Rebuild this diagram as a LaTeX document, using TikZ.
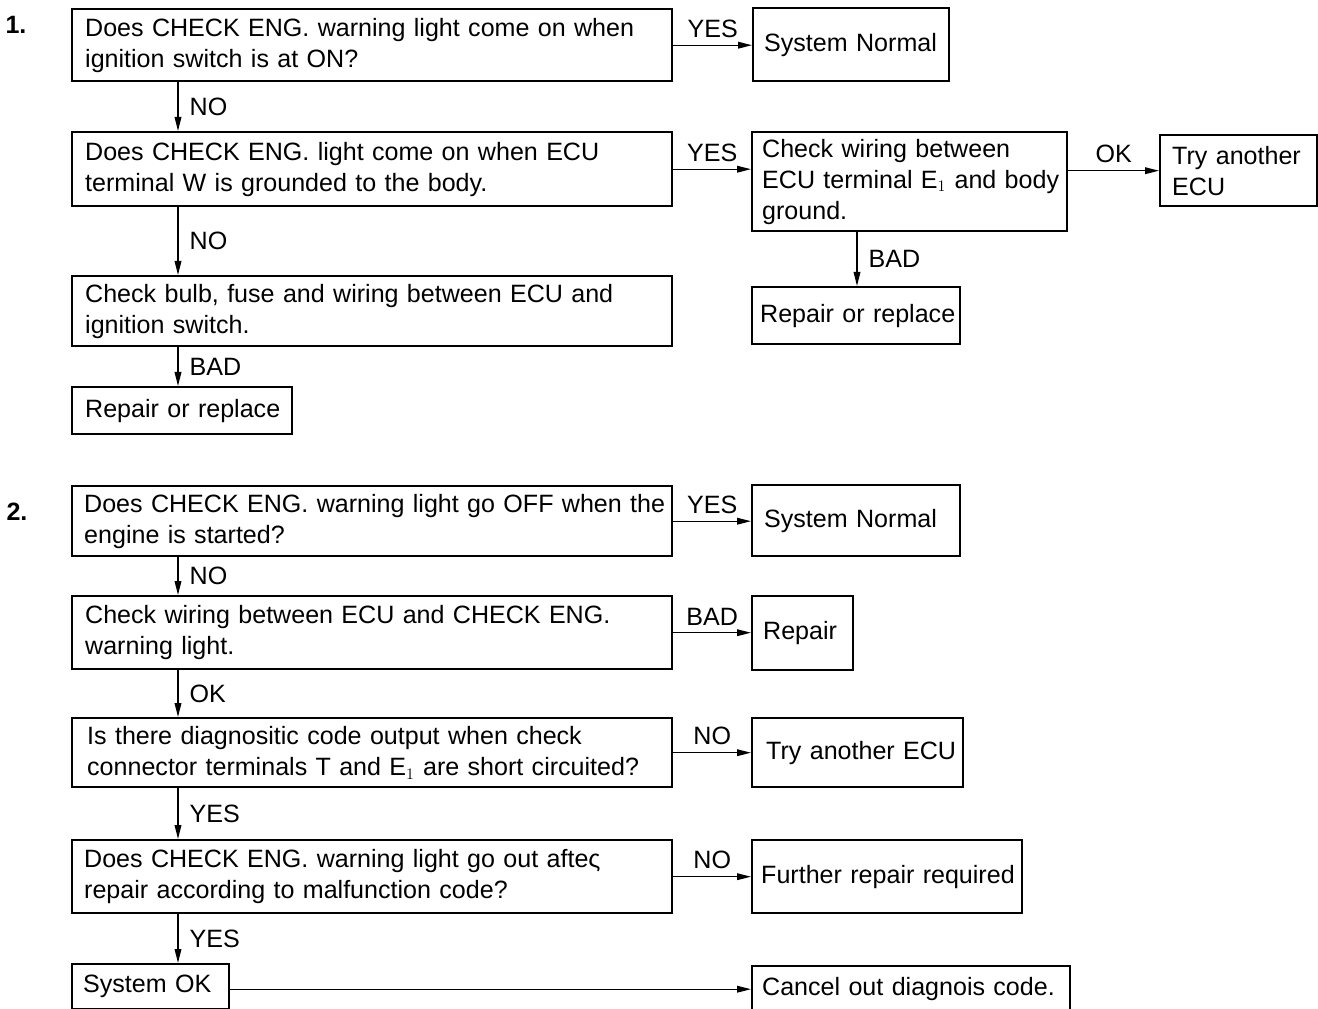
\documentclass[tikz,border=0pt]{standalone}
\usepackage{fontspec}
\setmainfont{Liberation Sans}
\usetikzlibrary{arrows.meta}
\newdimen\px \px=0.75pt
\newdimen\tw
\newcommand{\dgfont}{\fontsize{18.8}{23.25}\selectfont}
\tikzset{
  box/.style={draw, line width=1.8pt, rectangle, font=\dgfont, align=left, inner ysep=0pt, anchor=north west},
  arr/.style={line width=1pt, -{Triangle[length=10.5pt,width=5pt]}},
  lab/.style={font=\dgfont, inner sep=0pt},
}
% name, x, y, w, h, inset, text
\newcommand{\bx}[7]{%
  \tw=#4\px \advance\tw by -#6\px \advance\tw by -#6\px
  \node[box, minimum width=#4\px, minimum height=#5\px, inner xsep=#6\px, text width=\the\tw] (#1) at (#2,#3) {#7};}
\begin{document}
\begin{tikzpicture}[x=0.75pt, y=-0.75pt]
\path[use as bounding box] (0,0) rectangle (1318,1009);
\clip (0,0) rectangle (1318,1009);

\node[lab, font=\dgfont\bfseries] (n1) at (16,25) {1.};
\node[lab, font=\dgfont\bfseries] (n2) at (17,512) {2.};

% section 1
\bx{A1}{71}{8}{600}{72}{13}{\mbox{Does CHECK ENG. warning light come on when}\\\mbox{ignition switch is at ON?}}
\bx{SN1}{752}{7}{196}{73}{11}{\mbox{System Normal}}
\bx{A2}{71}{131}{600}{74}{13}{\mbox{Does CHECK ENG. light come on when ECU}\\\mbox{terminal W is grounded to the body.}}
\bx{A3}{751}{131}{315}{99}{10}{\mbox{Check wiring between}\\\mbox{ECU terminal E$_1$ and body}\\\mbox{ground.}}
\bx{TA1}{1159}{134}{157}{71}{12}{\mbox{Try another}\\\mbox{ECU}}
\bx{RR1}{751}{286}{208}{57}{8}{\mbox{Repair or replace}}
\bx{A4}{71}{275}{600}{70}{13}{\mbox{Check bulb, fuse and wiring between ECU and}\\\mbox{ignition switch.}}
\bx{RR2}{71}{386}{220}{47}{13}{\mbox{Repair or replace}}

\draw[arr] (A1.east) -- node[lab, above=7\px]{YES} (A1.east -| SN1.west);
\draw[arr] ([xshift=107\px]A1.south west) -- node[lab, right=11\px]{NO} ([xshift=107\px]A2.north west);
\draw[arr] (A2.east) -- node[lab, above=7\px]{YES} (A2.east -| A3.west);
\draw[arr] (A3.east |- TA1.west) -- node[lab, above=7\px]{OK} (TA1.west);
\draw[arr] ([xshift=106\px]A3.south west) -- node[lab, right=11\px]{BAD} ([xshift=106\px]RR1.north west);
\draw[arr] ([xshift=107\px]A2.south west) -- node[lab, right=11\px]{NO} ([xshift=107\px]A4.north west);
\draw[arr] ([xshift=107\px]A4.south west) -- node[lab, right=11\px]{BAD} ([xshift=107\px]RR2.north west);

% section 2
\bx{B1}{71}{485}{600}{70}{12}{\mbox{Does CHECK ENG. warning light go OFF when the}\\\mbox{engine is started?}}
\bx{SN2}{751}{484}{208}{71}{12}{\mbox{System Normal}}
\bx{B2}{71}{595}{600}{73}{13}{\mbox{Check wiring between ECU and CHECK ENG.}\\\mbox{warning light.}}
\bx{RP}{751}{595}{101}{74}{11}{\mbox{Repair}}
\bx{B3}{71}{717}{600}{69}{15}{\mbox{Is there diagnositic code output when check}\\\mbox{connector terminals T and E$_1$ are short circuited?}}
\bx{TA2}{751}{717}{211}{69}{14}{\mbox{Try another ECU}}
\bx{B4}{71}{839}{600}{73}{12}{\mbox{Does CHECK ENG. warning light go out afteς}\\\mbox{repair according to malfunction code?}}
\bx{FR}{751}{839}{270}{73}{9}{\mbox{Further repair required}}
\bx{SOK}{71}{963}{157}{45}{11}{\mbox{System OK}}
\bx{CO}{751}{965}{318}{46}{10}{\mbox{Cancel out diagnois code.}}

\draw[arr] (B1.east) -- node[lab, above=7\px]{YES} (B1.east -| SN2.west);
\draw[arr] ([xshift=107\px]B1.south west) -- node[lab, right=11\px]{NO} ([xshift=107\px]B2.north west);
\draw[arr] (B2.east) -- node[lab, above=7\px]{BAD} (B2.east -| RP.west);
\draw[arr] ([xshift=107\px]B2.south west) -- node[lab, right=11\px]{OK} ([xshift=107\px]B3.north west);
\draw[arr] (B3.east) -- node[lab, above=7\px]{NO} (B3.east -| TA2.west);
\draw[arr] ([xshift=107\px]B3.south west) -- node[lab, right=11\px]{YES} ([xshift=107\px]B4.north west);
\draw[arr] (B4.east) -- node[lab, above=7\px]{NO} (B4.east -| FR.west);
\draw[arr] ([xshift=107\px]B4.south west) -- node[lab, right=11\px]{YES} ([xshift=107\px]SOK.north west);
\draw[arr] (SOK.east |- CO.west) -- (CO.west);
\end{tikzpicture}
\end{document}
